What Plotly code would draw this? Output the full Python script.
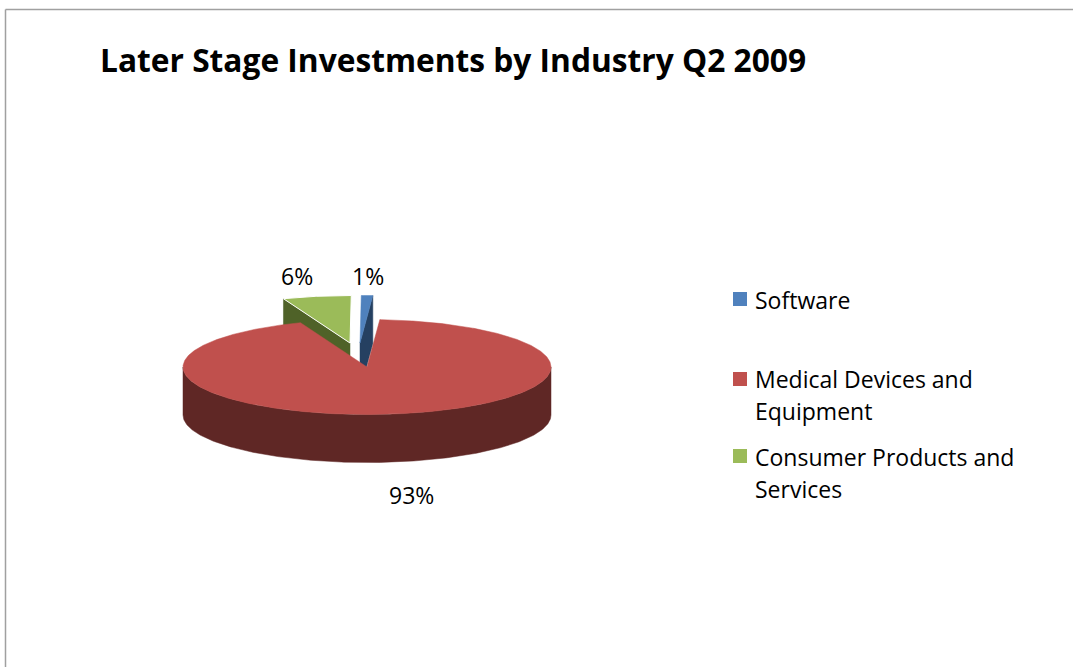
import numpy as np
import plotly.graph_objects as go

# Chart content
title = "Later Stage Investments by Industry Q2 2009"
categories = ["Software", "Medical Devices and Equipment", "Consumer Products and Services"]
legend_lines = [["Software"], ["Medical Devices and", "Equipment"], ["Consumer Products and", "Services"]]
values = [1, 93, 6]
value_labels = ["1%", "93%", "6%"]

# Slice colours: top face, then the darker side wall
top_colors = ["#4F81BD", "#C0504D", "#9BBB59"]
side_colors = ["#254061", "#5F2725", "#4F6228"]

# Pie projection, in page pixels
CX, CY = 367.0, 367.0
RX, RY = 184.0, 47.5
DEPTH = 48.0
ROTATION = 0.4
# Pulled-out slices: centre shift for each slice
shifts = [(-7, -24), (0, 0), (-17, -24)]

fractions = np.array(values, dtype=float) / sum(values)
edges = ROTATION + 360 * np.concatenate([[0], np.cumsum(fractions)])


def rim(deg, shift, drop=0.0):
    """Project clockwise-from-top angles onto the tilted pie's rim."""
    t = np.radians(deg)
    return (CX + shift[0] + RX * np.sin(t),
            CY + shift[1] - RY * np.cos(t) + drop)


def top_face(i):
    deg = np.linspace(edges[i], edges[i + 1], max(4, int((edges[i + 1] - edges[i]) * 2)))
    x, y = rim(deg, shifts[i])
    cx, cy = CX + shifts[i][0], CY + shifts[i][1]
    return np.r_[cx, x, cx], np.r_[cy, y, cy]


def cut_wall(i, deg):
    """Flat wall exposed along a radial cut of slice i."""
    s = shifts[i]
    cx, cy = CX + s[0], CY + s[1]
    rx, ry = rim(np.array([deg]), s)
    return ([cx, rx[0], rx[0], cx, cx],
            [cy, ry[0], ry[0] + DEPTH, cy + DEPTH, cy])


def front_wall(i):
    """Curved outer wall for the part of slice i facing the viewer."""
    lo, hi = max(edges[i], 90), min(edges[i + 1], 270)
    deg = np.linspace(lo, hi, 240)
    x, y = rim(deg, shifts[i])
    return np.r_[x, x[::-1], x[0]], np.r_[y, y[::-1] + DEPTH, y[0]]


def poly(x, y, color, line=None):
    return go.Scatter(
        x=list(x), y=list(y), mode="lines", fill="toself", fillcolor=color,
        line=dict(color=line or color, width=1 if line else 0.5),
        hoverinfo="skip", showlegend=False,
    )


fig = go.Figure()

# Back to front: pulled-out slices first, then the large slice over them
fig.add_trace(poly(*cut_wall(2, edges[2]), side_colors[2]))
fig.add_trace(poly(*top_face(2), top_colors[2], line="#FFFFFF"))
fig.add_trace(poly(*cut_wall(0, edges[1]), side_colors[0]))
fig.add_trace(poly(*top_face(0), top_colors[0]))
fig.add_trace(poly(*front_wall(1), side_colors[1]))
fig.add_trace(poly(*top_face(1), top_colors[1]))

# Legend swatches
swatch_y = [299, 379, 456]
fig.add_trace(go.Scatter(
    x=[740] * 3, y=swatch_y, mode="markers",
    marker=dict(symbol="square", size=14, color=top_colors, line=dict(width=0)),
    hoverinfo="skip", showlegend=False,
))

FONT = "'Open Sans', Lato, sans-serif"
annotations = [dict(
    x=98, y=59, text=f"<b>{title}</b>", xanchor="left", yanchor="middle",
    showarrow=False, font=dict(family=FONT, size=31.7, color="#000000"),
)]

# Percentage labels
label_pos = [(368, 276), (411, 495), (297, 276)]
for text, (lx, ly) in zip(value_labels, label_pos):
    annotations.append(dict(
        x=lx, y=ly, text=text, xanchor="center", yanchor="middle",
        showarrow=False, font=dict(family=FONT, size=23, color="#000000"),
    ))

# Legend text, one annotation per wrapped line
legend_first_y = [300, 379, 457]
for lines, y0 in zip(legend_lines, legend_first_y):
    for k, line in enumerate(lines):
        annotations.append(dict(
            x=753, y=y0 + 32 * k, text=line, xanchor="left", yanchor="middle",
            showarrow=False, font=dict(family=FONT, size=23, color="#000000"),
        ))

frame_color = "#A0A0A0"
fig.update_layout(
    width=1073, height=667, autosize=False,
    margin=dict(l=0, r=0, t=0, b=0),
    paper_bgcolor="#FFFFFF", plot_bgcolor="#FFFFFF",
    showlegend=False,
    xaxis=dict(range=[0, 1073], visible=False, fixedrange=True),
    yaxis=dict(range=[667, 0], visible=False, fixedrange=True),
    annotations=annotations,
    shapes=[
        dict(type="line", x0=5.5, x1=1073, y0=9.5, y1=9.5, line=dict(color=frame_color, width=1.5)),
        dict(type="line", x0=5.5, x1=5.5, y0=9.5, y1=667, line=dict(color=frame_color, width=1.5)),
    ],
)

fig.write_html("out.html")
